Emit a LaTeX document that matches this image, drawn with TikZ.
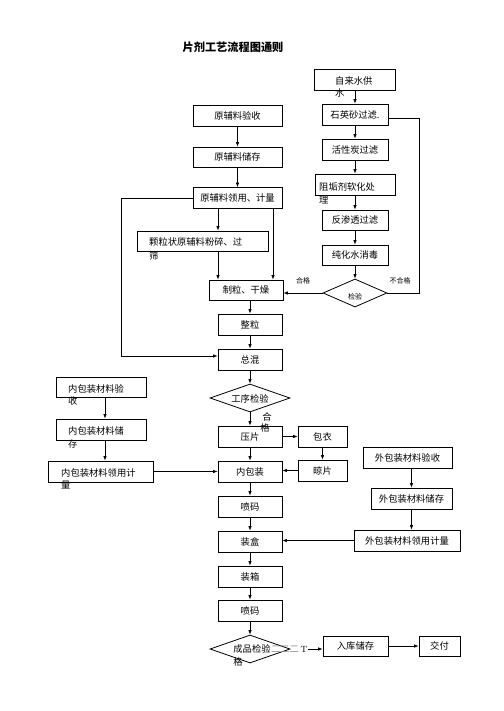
\documentclass[tikz,border=0pt]{standalone}
\usepackage{fontspec}
\newfontfamily\cjk{Noto Sans CJK SC}
\usetikzlibrary{shapes.geometric,arrows.meta}
\begin{document}
\begin{tikzpicture}[x=1pt,y=-1pt,
 box/.style={draw, line width=0.8pt, inner sep=0pt, font=\cjk\fontsize{9.3}{11}\selectfont},
 txt/.style={inner sep=0pt, font=\cjk\fontsize{9.3}{11}\selectfont},
 small/.style={inner sep=0pt, font=\cjk\fontsize{7}{8}\selectfont},
 dia/.style={draw, diamond, line width=0.8pt, inner sep=0pt},
 arr/.style={-{Latex[length=4.5pt,width=3.5pt]}, line width=0.7pt},
 ln/.style={line width=0.7pt}]
\useasboundingbox[fill=white] (0,0) rectangle (503,711);

\node[font=\cjk\bfseries\fontsize{11.2}{13}\selectfont] (title) at (233,47) {片剂工艺流程图通则};

% water column
\node[box,minimum width=81pt,minimum height=21pt] (zls) at (354.5,79.5) {};
\node[txt,anchor=west] (zlst1) at (335,81) {自来水供};
\node[txt,anchor=west] (zlst2) at (335,93) {水};
\node[box,minimum width=66pt,minimum height=21pt] (syf) at (355,114.5) {石英砂过滤.};
\node[box,minimum width=66pt,minimum height=21pt] (hxt) at (355,149.5) {活性炭过滤};
\node[box,minimum width=80pt,minimum height=21pt] (zgj) at (355,184.5) {};
\node[txt,anchor=west] (zgjt1) at (319,187) {阻垢剂软化处};
\node[txt,anchor=west] (zgjt2) at (319,200) {理};
\node[box,minimum width=66pt,minimum height=20pt] (fst) at (355,220) {反渗透过滤};
\node[box,minimum width=66pt,minimum height=20pt] (chs) at (355,255) {纯化水消毒};
\node[dia,minimum width=64pt,minimum height=28pt] (jy) at (355,293) {};
\node[small] (jyt) at (355,297) {检验};
\node[small] (hg1) at (303,281) {合格};
\node[small] (bhg) at (400,281) {不合格};
\coordinate (nbx) at (419,293);

% raw material column
\node[box,minimum width=89pt,minimum height=21pt] (ysl) at (237.5,115.5) {原辅料验收};
\node[box,minimum width=89pt,minimum height=20pt] (yck) at (237.5,157) {原辅料储存};
\node[box,minimum width=89pt,minimum height=21pt] (ylj) at (237.5,198) {原辅料领用、计量};
\node[box,minimum width=131pt,minimum height=20pt] (kl) at (202.5,241) {};
\node[txt,anchor=west] (klt1) at (149,242) {颗粒状原辅料粉碎、过};
\node[txt,anchor=west] (klt2) at (149,256) {筛};
\node[box,minimum width=74pt,minimum height=20pt] (zl) at (246,290) {制粒、干燥};
\node[box,minimum width=64pt,minimum height=21pt] (zhl) at (250,324.5) {整粒};
\node[box,minimum width=64pt,minimum height=21pt] (zh) at (250,359.5) {总混};
\node[dia,minimum width=80pt,minimum height=28pt] (gx) at (250,398) {};
\node[txt] (gxt) at (250,399) {工序检验};
\node[txt] (hg2a) at (267,417) {合};
\node[txt] (hg2b) at (265,428) {格};
\node[box,minimum width=64pt,minimum height=21pt] (yp) at (250,436.5) {压片};
\node[box,minimum width=49pt,minimum height=21pt] (by) at (322.5,436.5) {包衣};
\node[box,minimum width=49pt,minimum height=21pt] (lp) at (322.5,470.5) {晾片};
\node[box,minimum width=64pt,minimum height=21pt] (nbz) at (250,471.5) {内包装};
\node[box,minimum width=64pt,minimum height=21pt] (pm1) at (250,506.5) {喷码};
\node[box,minimum width=64pt,minimum height=21pt] (zhe) at (250,541.5) {装盒};
\node[box,minimum width=64pt,minimum height=21pt] (zx) at (250,576.5) {装箱};
\node[box,minimum width=64pt,minimum height=21pt] (pm2) at (250,610.5) {喷码};
\node[dia,minimum width=80pt,minimum height=28pt] (cp) at (250,649) {};
\node[txt] (cpt) at (252,649) {成品检验};
\node[txt,text=black!45] (cpg) at (285,649) {二二二};
\node[txt,font=\fontsize{9}{10}\selectfont] (cpT) at (304,649) {T};
\node[txt] (cpgg) at (238,662) {格};
\node[box,minimum width=65pt,minimum height=20pt] (rk) at (355.5,646) {入库储存};
\node[box,minimum width=41pt,minimum height=20pt] (jf) at (439.5,646) {交付};

% inner packaging
\node[box,minimum width=90pt,minimum height=20pt] (nys) at (101,387) {};
\node[txt,anchor=west] (nyst1) at (68,389) {内包装材料验};
\node[txt,anchor=west] (nyst2) at (68,401) {收};
\node[box,minimum width=90pt,minimum height=21pt] (ncc) at (101,429.5) {};
\node[txt,anchor=west] (ncct1) at (68,431) {内包装材料储};
\node[txt,anchor=west] (ncct2) at (68,444) {存};
\node[box,minimum width=105pt,minimum height=21pt] (nly) at (100.5,471.5) {};
\node[txt,anchor=west] (nlyt1) at (61,473) {内包装材料领用计};
\node[txt,anchor=west] (nlyt2) at (61,485) {量};

% outer packaging
\node[box,minimum width=89pt,minimum height=21pt] (wys) at (407.5,457.5) {外包装材料验收};
\node[box,minimum width=81pt,minimum height=21pt] (wcc) at (411.5,498.5) {外包装材料储存};
\node[box,minimum width=106pt,minimum height=21pt] (wly) at (407,540.5) {外包装材料领用计量};

\coordinate (c1) at (218,0);
\coordinate (c2) at (273,0);
\coordinate (c3) at (105,0);
\coordinate (c4) at (121,0);

% connectors: water
\draw[arr] (zls.south -| syf.north) -- (syf.north);
\draw[arr] (syf) -- (hxt);
\draw[arr] (hxt) -- (zgj);
\draw[arr] (zgj) -- (fst);
\draw[arr] (fst) -- (chs);
\draw[arr] (chs) -- (jy);
\draw[arr] (jy.west) -- (jy.west -| zl.east);
\draw[ln] (jy.east) -- (nbx) |- ([yshift=-3.5pt]syf.east);

% raw material
\draw[arr] (ysl) -- (yck);
\draw[arr] (yck) -- (ylj);
\draw[arr] (ylj.south -| c1) -- (kl.north -| c1);
\draw[arr] (kl.south -| c1) -- (zl.north -| c1);
\draw[arr] (ylj.south -| c2) -- (zl.north -| c2);
\draw[arr] (zl.south -| zhl.north) -- (zhl.north);
\draw[arr] (zhl) -- (zh);
\draw[arr] (ylj.west) -- (ylj.west -| c4) |- ([yshift=3.5pt]zh.west);
\draw[arr] (zh) -- (gx);
\draw[arr] (gx) -- (yp);
\draw[arr] (yp) -- (by);
\draw[arr] (by) -- (lp);
\draw[arr] (lp.west) -- (lp.west -| nbz.east);
\draw[arr] (yp) -- (nbz);
\draw[arr] (nbz) -- (pm1);
\draw[arr] (pm1) -- (zhe);
\draw[arr] (zhe) -- (zx);
\draw[arr] (zx) -- (pm2);
\draw[arr] (pm2) -- (cp);
\draw[arr] (cpT.east) -- (cpT.east -| rk.west);
\draw[arr] (rk) -- (jf);

% inner packaging
\draw[arr] (nys.south -| c3) -- (ncc.north -| c3);
\draw[arr] (ncc.south -| c3) -- (nly.north -| c3);
\draw[arr] (nly) -- (nbz);

% outer packaging
\draw[arr] (wys.south -| wcc.north) -- (wcc.north);
\draw[arr] (wcc.south) -- (wly.north -| wcc.south);
\draw[arr] (wly.west) -- (wly.west -| zhe.east);
\end{tikzpicture}
\end{document}
